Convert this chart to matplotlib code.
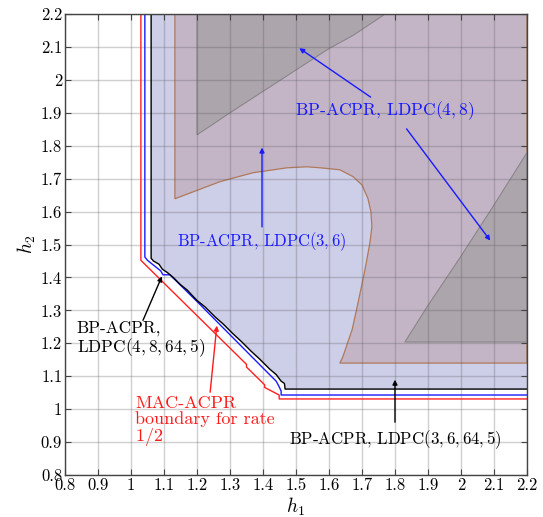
import matplotlib
matplotlib.use("Agg")
import matplotlib.pyplot as plt

plt.rcParams['font.family'] = ['cmr10', 'DejaVu Serif']
plt.rcParams['mathtext.fontset'] = 'cm'
plt.rcParams['axes.formatter.use_mathtext'] = True

# ---- data ----
ticks = [0.8, 0.9, 1.0, 1.1, 1.2, 1.3, 1.4, 1.5, 1.6, 1.7, 1.8, 1.9, 2.0, 2.1, 2.2]
tick_labels = ["0.8", "0.9", "1", "1.1", "1.2", "1.3", "1.4", "1.5", "1.6", "1.7",
               "1.8", "1.9", "2", "2.1", "2.2"]

# BP-ACPR, LDPC(4,8) region
r48_h1 = [1.133, 1.133, 1.270, 1.370, 1.473, 1.533, 1.573, 1.633, 1.673, 1.700, 1.718,
          1.727, 1.730, 1.724, 1.709, 1.688, 1.670, 1.642, 1.633, 2.2, 2.2]
r48_h2 = [2.2, 1.639, 1.691, 1.718, 1.733, 1.736, 1.733, 1.727, 1.706, 1.681, 1.640,
          1.600, 1.554, 1.505, 1.423, 1.323, 1.241, 1.159, 1.140, 1.140, 2.2]

# gray regions
g1_h1 = [1.2, 1.2, 1.30, 1.40, 1.50, 1.60, 1.673, 1.77]
g1_h2 = [2.2, 1.833, 1.900, 1.965, 2.030, 2.095, 2.135, 2.2]
g2_h1 = [1.830, 1.90, 1.997, 2.10, 2.2, 2.2]
g2_h2 = [1.204, 1.315, 1.460, 1.620, 1.779, 1.204]

# BP-ACPR, LDPC(4,8,64,5) boundary (black)
blk_h1 = [1.061, 1.061, 1.068, 1.085, 1.095, 1.110, 1.128, 1.150, 1.170, 1.200, 1.225,
          1.255, 1.280, 1.310, 1.335, 1.365, 1.390, 1.420, 1.440, 1.455, 1.465, 1.467, 2.2]
blk_h2 = [2.2, 1.458, 1.450, 1.440, 1.425, 1.415, 1.400, 1.378, 1.362, 1.330, 1.310,
          1.280, 1.258, 1.228, 1.205, 1.175, 1.152, 1.122, 1.105, 1.085, 1.078, 1.061, 1.061]

# BP-ACPR, LDPC(3,6,64,5) boundary (blue)
blu_h1 = [1.042, 1.042, 1.050, 1.090, 1.097, 1.118, 1.200, 1.300, 1.400, 1.440, 1.448,
          1.455, 1.455, 2.2]
blu_h2 = [2.2, 1.462, 1.452, 1.420, 1.408, 1.408, 1.327, 1.226, 1.125, 1.085, 1.070,
          1.055, 1.043, 1.043]

# MAC-ACPR boundary for rate 1/2 (red)
red_h1 = [1.030, 1.030, 1.040, 1.350, 1.350, 1.405, 1.405, 1.449, 1.449, 2.2]
red_h2 = [2.2, 1.452, 1.442, 1.136, 1.128, 1.074, 1.066, 1.043, 1.031, 1.031]

fig = plt.figure(figsize=(5.43, 5.17), dpi=100)
ax = fig.add_axes([0.1197, 0.0812, 0.8508, 0.8917])

lav = '#cdcee7'
ax.fill(blk_h1 + [2.2], blk_h2 + [2.2], color=lav, lw=0, zorder=1)
ax.fill(r48_h1, r48_h2, facecolor='#c3b5c5', edgecolor='#b07a5a', lw=0.9, zorder=1.2)
ax.fill(g1_h1, g1_h2, facecolor='#aca5ac', edgecolor='#8a868a', lw=0.8, zorder=1.4)
ax.fill(g2_h1, g2_h2, facecolor='#aca5ac', edgecolor='#8a868a', lw=0.8, zorder=1.4)

ax.plot(red_h1, red_h2, color='#ff2020', lw=1.0, zorder=3)
ax.plot(blu_h1, blu_h2, color='#1a1aff', lw=1.0, zorder=3)
ax.plot(blk_h1, blk_h2, color='black', lw=1.0, zorder=3)

ax.set_xlim(0.8, 2.2)
ax.set_ylim(0.8, 2.2)
ax.set_xticks(ticks)
ax.set_xticklabels(tick_labels)
ax.set_yticks(ticks)
ax.set_yticklabels(tick_labels)
ax.set_axisbelow(False)
ax.grid(True, color=(0.35, 0.35, 0.38), alpha=0.28, lw=1.0)
ax.tick_params(direction='in', length=4, width=0.8, top=True, right=True,
               labelsize=12, color='#444444', pad=2)
for s in ax.spines.values():
    s.set_color('#444444')
    s.set_linewidth(1.0)
    s.set_zorder(4)

ax.set_xlabel(r'$h_1$', fontsize=14, labelpad=2)
ax.set_ylabel(r'$h_2$', fontsize=14, labelpad=2)

blue = '#1a1aff'
aprops = dict(arrowstyle='-|>', mutation_scale=7, lw=1.0)

ax.text(1.77, 1.906, r'BP-ACPR, LDPC$(4,8)$', color=blue, fontsize=12.6,
        ha='center', va='center', zorder=5)
ax.annotate('', xy=(1.503, 2.101), xytext=(1.733, 1.943),
            arrowprops=dict(color=blue, **aprops), zorder=5)
ax.annotate('', xy=(2.094, 1.505), xytext=(1.830, 1.858),
            arrowprops=dict(color=blue, **aprops), zorder=5)

ax.text(1.397, 1.508, r'BP-ACPR, LDPC$(3,6)$', color=blue, fontsize=11.9,
        ha='center', va='center', zorder=5)
ax.annotate('', xy=(1.397, 1.803), xytext=(1.397, 1.545),
            arrowprops=dict(color=blue, **aprops), zorder=5)

ax.text(0.836, 1.21, 'BP-ACPR,\n' + r'LDPC$(4,8,64,5)$', color='black', fontsize=12.4,
        ha='left', va='center', linespacing=1.0, zorder=5)
ax.annotate('', xy=(1.097, 1.411), xytext=(1.033, 1.262),
            arrowprops=dict(color='black', **aprops), zorder=5)

ax.text(1.012, 1.04, 'MAC-ACPR\nboundary for rate\n' + r'$1/2$', color='#ff1a1a',
        fontsize=13, ha='left', va='top', linespacing=0.95, zorder=5)
ax.annotate('', xy=(1.261, 1.262), xytext=(1.239, 1.043),
            arrowprops=dict(color='#ff1a1a', **aprops), zorder=5)

ax.text(1.8, 0.906, r'BP-ACPR, LDPC$(3,6,64,5)$', color='black', fontsize=12.1,
        ha='center', va='center', zorder=5)
ax.annotate('', xy=(1.8, 1.098), xytext=(1.8, 0.952),
            arrowprops=dict(color='black', **aprops), zorder=5)

fig.savefig('out.png', dpi=100)
